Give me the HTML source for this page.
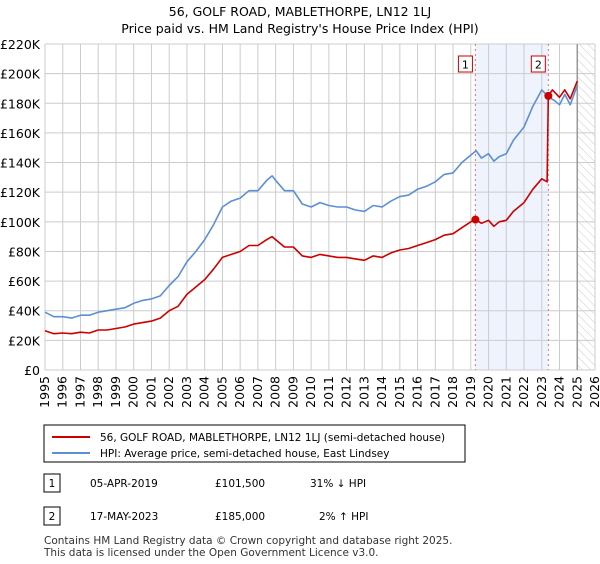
<!DOCTYPE html>
<html><head><meta charset="utf-8"><style>
body{margin:0;background:#fff;font-family:"DejaVu Sans","Liberation Sans",sans-serif;}
svg text{font-family:"DejaVu Sans","Liberation Sans",sans-serif;}
</style></head><body>
<svg id="c" width="600" height="560" xmlns="http://www.w3.org/2000/svg">
<defs><pattern id="hatch" width="6" height="6" patternUnits="userSpaceOnUse" patternTransform="rotate(-45)"><line x1="0" y1="0" x2="0" y2="6" stroke="#ccc" stroke-width="1"/></pattern></defs>
<text x="300" y="16" text-anchor="middle" font-size="12.5">56, GOLF ROAD, MABLETHORPE, LN12 1LJ</text>
<text x="300" y="33" text-anchor="middle" font-size="12.5">Price paid vs. HM Land Registry's House Price Index (HPI)</text>
<g id="plot"></g>
<g>
<rect x="44" y="425" width="421" height="37" fill="#fff" stroke="#000" stroke-width="1"/>
<line x1="52" y1="437" x2="90" y2="437" stroke="#cc0000" stroke-width="2"/>
<text x="100" y="441" font-size="10.5">56, GOLF ROAD, MABLETHORPE, LN12 1LJ (semi-detached house)</text>
<line x1="52" y1="453" x2="90" y2="453" stroke="#5b8fd6" stroke-width="2"/>
<text x="100" y="457" font-size="10.5">HPI: Average price, semi-detached house, East Lindsey</text>
</g>
<g font-size="10.5">
<rect x="44" y="474" width="16" height="18" fill="#fff" stroke="#000"/><text x="52" y="487" text-anchor="middle">1</text>
<text x="90" y="487">05-APR-2019</text><text x="215" y="487">£101,500</text><text x="310" y="487">31% ↓ HPI</text>
<rect x="44" y="507" width="16" height="18" fill="#fff" stroke="#000"/><text x="52" y="520" text-anchor="middle">2</text>
<text x="90" y="520">17-MAY-2023</text><text x="215" y="520">£185,000</text><text x="319" y="520">2% ↑ HPI</text>
</g>
<text x="44" y="544" font-size="10.5" fill="#333">Contains HM Land Registry data © Crown copyright and database right 2025.</text>
<text x="44" y="556" font-size="10.5" fill="#333">This data is licensed under the Open Government Licence v3.0.</text>
</svg>
<script>
const hpiYears=[1995,1995.5,1996,1996.5,1997,1997.5,1998,1998.5,1999,1999.5,2000,2000.5,2001,2001.5,2002,2002.5,2003,2003.5,2004,2004.5,2005,2005.5,2006,2006.5,2007,2007.5,2007.8,2008,2008.5,2009,2009.5,2010,2010.5,2011,2011.5,2012,2012.5,2013,2013.5,2014,2014.5,2015,2015.5,2016,2016.5,2017,2017.5,2018,2018.5,2019,2019.3,2019.6,2020,2020.3,2020.6,2021,2021.4,2022,2022.5,2023,2023.4,2023.7,2024,2024.3,2024.6,2025];
const hpiValues=[39,36,36,35,37,37,39,40,41,42,45,47,48,50,57,63,73,80,88,98,110,114,116,121,121,128,131,128,121,121,112,110,113,111,110,110,108,107,111,110,114,117,118,122,124,127,132,133,140,145,148,143,146,141,144,146,155,164,178,189,184,182,179,186,179,192];
const ppYears=[1995,1995.5,1996,1996.5,1997,1997.5,1998,1998.5,1999,1999.5,2000,2000.5,2001,2001.5,2002,2002.5,2003,2003.5,2004,2004.5,2005,2005.5,2006,2006.5,2007,2007.5,2007.8,2008,2008.5,2009,2009.5,2010,2010.5,2011,2011.5,2012,2012.5,2013,2013.5,2014,2014.5,2015,2015.5,2016,2016.5,2017,2017.5,2018,2018.5,2019,2019.26,2019.6,2020,2020.3,2020.6,2021,2021.4,2022,2022.5,2023,2023.3,2023.37,2023.6,2024,2024.3,2024.6,2025];
const ppValues=[26.5,24.5,25,24.5,25.5,25,27,27,28,29,31,32,33,35,40,43,51,56,61,68,76,78,80,84,84,88,90,88,83,83,77,76,78,77,76,76,75,74,77,76,79,81,82,84,86,88,91,92,96,100,101.5,99,101,97,100,101,107,113,122,129,127,185,189,184,189,183,195];
const saleYears=[2019.26,2023.37];
const saleValues=[101.5,185];
const saleLabels=["1","2"];
const yTicks=[0,20,40,60,80,100,120,140,160,180,200,220];
const xTicks=[1995,1996,1997,1998,1999,2000,2001,2002,2003,2004,2005,2006,2007,2008,2009,2010,2011,2012,2013,2014,2015,2016,2017,2018,2019,2020,2021,2022,2023,2024,2025,2026];
const X0=45,X1=595,Y0=370,Y1=44;
const xs=y=>X0+(y-1995)/31*(X1-X0);
const ys=v=>Y0-v/220*(Y0-Y1);
const NS="http://www.w3.org/2000/svg";
const g=document.getElementById('plot');
function mk(t,a){const e=document.createElementNS(NS,t);for(const k in a)e.setAttribute(k,a[k]);g.appendChild(e);return e;}
let e=mk('rect',{x:xs(saleYears[0]),y:Y1,width:xs(saleYears[1])-xs(saleYears[0]),height:Y0-Y1,fill:'#eef3fd'});


e=mk('rect',{x:xs(2025),y:Y1,width:X1-xs(2025),height:Y0-Y1,fill:'url(#hatch)'});


yTicks.forEach(v=>{
 let l=mk('line',{x1:X0,x2:X1,y1:ys(v),y2:ys(v),stroke:'#ccc','stroke-width':1});
 
 
 let t=mk('text',{x:X0-5,y:ys(v)+5,'text-anchor':'end','font-size':'12.5'});
 t.textContent=v===0?'£0':'£'+v+'K';
 
 
});
xTicks.forEach(y=>{
 let l=mk('line',{x1:xs(y),x2:xs(y),y1:Y1,y2:Y0,stroke:'#ccc','stroke-width':1});
 
 
 let t=mk('text',{x:0,y:0,'text-anchor':'end','font-size':'12.5',transform:`translate(${xs(y)+4},${Y0+6}) rotate(-90)`});
 t.textContent=y;
 
 
});
e=mk('line',{x1:xs(2025),x2:xs(2025),y1:Y1,y2:Y0,stroke:'#999','stroke-width':1.5});


saleYears.forEach((y,i)=>{
 let l=mk('line',{x1:xs(y),x2:xs(y),y1:Y1,y2:Y0,stroke:'#f07070','stroke-width':1,'stroke-dasharray':'2,3'});
 
 
});
function path(xa,va,col,name){
 const d=xa.map((x,i)=>(i?'L':'M')+xs(x).toFixed(1)+','+ys(va[i]).toFixed(1)).join('');
 const p=mk('path',{d:d,fill:'none',stroke:col,'stroke-width':1.6,'stroke-linejoin':'round'});
 
 
}
path(hpiYears,hpiValues,'#5b8fd6','hpi-line');
path(ppYears,ppValues,'#cc0000','property-line');
saleYears.forEach((y,i)=>{
 let c=mk('circle',{cx:xs(y),cy:ys(saleValues[i]),r:4,fill:'#cc0000'});
 
 
 let r=mk('rect',{x:xs(y)-17,y:56,width:14,height:16,fill:'#fff',stroke:'#cc0000'});
 
 
 let t=mk('text',{x:xs(y)-10,y:68.5,'text-anchor':'middle','font-size':'11'});
 t.textContent=saleLabels[i];
 
 
});
</script>
</body></html>
